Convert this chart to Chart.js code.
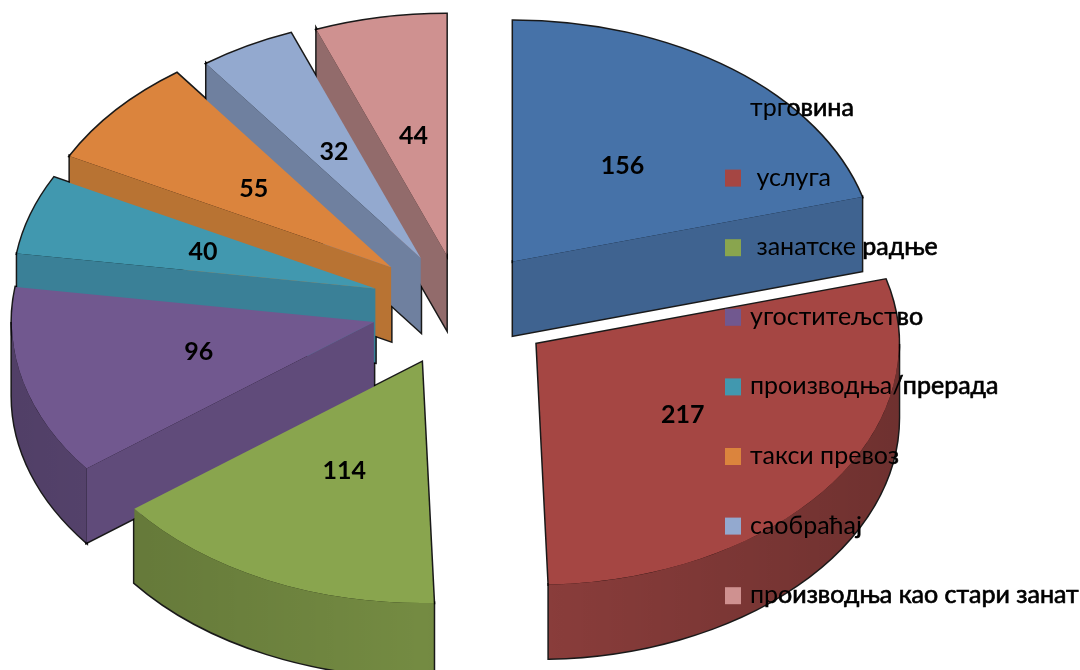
<!DOCTYPE html>
<html>
<head>
<meta charset="utf-8">
<script src="https://cdn.jsdelivr.net/npm/chart.js@4/dist/chart.umd.min.js"></script>
<style>
body { margin: 0; background: #fff; }
canvas { display: block; }
</style>
</head>
<body>
<canvas id="myChart" width="1080" height="670"></canvas>
<script>
const categories = ['трговина', ' услуга', ' занатске радње', 'угоститељство', 'производња/прерада', 'такси превоз', 'саобраћај', 'производња као стари занат'];
const values = [156, 217, 114, 96, 40, 55, 32, 44];
const topColors = ['#4672A8', '#A54643', '#89A54E', '#71588F', '#4198AF', '#DB843D', '#93A9CF', '#CF9190'];
const sideColors = ['#3F6390', '#8A3D3B', '#748B42', '#604B7A', '#3A8097', '#B87333', '#6F809F', '#926B6B'];
const slicePull = [86, 94, 92, 90, 90, 92, 84, 80];
// back slices first, the front ones cover them
const drawOrder = [7, 6, 5, 4, 3, 2, 0, 1];

const tilt = 0.665;
const wall = 74;
const labelFont = 'Lato, "Noto Sans", sans-serif';

// geometry of one slice, taken from the arc element
const sliceGeom = (arc) => {
    const mid = (arc.startAngle + arc.endAngle) / 2;
    const pull = arc.options.offset;
    return {
        ax: arc.x + Math.cos(mid) * pull,
        ay: arc.y + Math.sin(mid) * pull * tilt,
        r: arc.outerRadius,
        a0: arc.startAngle,
        a1: arc.endAngle,
        mid: mid
    };
};

const topPath = (ctx, s) => {
    ctx.beginPath();
    ctx.moveTo(s.ax, s.ay);
    ctx.ellipse(s.ax, s.ay, s.r, s.r * tilt, 0, s.a0, s.a1);
    ctx.closePath();
};

const radialFace = (ctx, s, a) => {
    const px = s.ax + Math.cos(a) * s.r;
    const py = s.ay + Math.sin(a) * s.r * tilt;
    ctx.beginPath();
    ctx.moveTo(s.ax, s.ay);
    ctx.lineTo(px, py);
    ctx.lineTo(px, py + wall);
    ctx.lineTo(s.ax, s.ay + wall);
    ctx.closePath();
};

// the cut faces that turn towards the viewer
const visibleFaces = (s) => {
    const faces = [];
    if (Math.sin(s.a0 - Math.PI / 2) > 0.1) faces.push(s.a0);
    if (Math.sin(s.a1 + Math.PI / 2) > 0.1) faces.push(s.a1);
    return faces;
};

// part of the rim on the front half of the ellipse, null when there is none
// arcs run from -PI/2 to 3PI/2 so the front half is just 0..PI
const frontRim = (s) => {
    const from = Math.max(s.a0, 0);
    const to = Math.min(s.a1, Math.PI);
    if (to <= from) return null;
    return [from, to];
};

const rimPath = (ctx, s, rim) => {
    ctx.beginPath();
    ctx.ellipse(s.ax, s.ay, s.r, s.r * tilt, 0, rim[0], rim[1]);
    ctx.ellipse(s.ax, s.ay + wall, s.r, s.r * tilt, 0, rim[1], rim[0], true);
    ctx.closePath();
};

const pie3d = {
    id: 'pie3d',
    beforeDatasetDraw(chart) {
        const ctx = chart.ctx;
        const arcs = chart.getDatasetMeta(0).data;
        drawOrder.forEach(i => {
            const s = sliceGeom(arcs[i]);
            ctx.fillStyle = sideColors[i];
            visibleFaces(s).forEach(a => {
                radialFace(ctx, s, a);
                ctx.fill();
            });
            const rim = frontRim(s);
            if (rim) {
                rimPath(ctx, s, rim);
                ctx.fill();
                // rim gets darker towards the sides
                const shade = ctx.createLinearGradient(s.ax - s.r, 0, s.ax + s.r, 0);
                shade.addColorStop(0, 'rgba(0,0,0,0.16)');
                shade.addColorStop(0.5, 'rgba(0,0,0,0)');
                shade.addColorStop(1, 'rgba(0,0,0,0.2)');
                ctx.fillStyle = shade;
                rimPath(ctx, s, rim);
                ctx.fill();
            }
            ctx.fillStyle = arcs[i].options.backgroundColor;
            topPath(ctx, s);
            ctx.fill();
        });
        // thin dark outline, only shows outside the painted slices
        ctx.save();
        ctx.globalCompositeOperation = 'destination-over';
        ctx.strokeStyle = 'rgba(0,0,0,0.9)';
        ctx.lineWidth = 3;
        drawOrder.forEach(i => {
            const s = sliceGeom(arcs[i]);
            topPath(ctx, s);
            ctx.stroke();
            visibleFaces(s).forEach(a => {
                radialFace(ctx, s, a);
                ctx.stroke();
            });
            const rim = frontRim(s);
            if (rim) {
                rimPath(ctx, s, rim);
                ctx.stroke();
            }
        });
        ctx.restore();
        return false;
    },
    afterDraw(chart) {
        const ctx = chart.ctx;
        const arcs = chart.getDatasetMeta(0).data;
        // values
        ctx.fillStyle = '#000';
        ctx.textAlign = 'center';
        ctx.textBaseline = 'middle';
        ctx.font = 'bold 25px ' + labelFont;
        arcs.forEach((arc, i) => {
            const s = sliceGeom(arc);
            ctx.fillText(values[i], s.ax + Math.cos(s.mid) * s.r / 2, s.ay + Math.sin(s.mid) * s.r * tilt / 2);
        });
        // legend
        ctx.textAlign = 'left';
        ctx.font = '25px ' + labelFont;
        chart.data.labels.forEach((label, i) => {
            const y = 108 + i * 69.6;
            ctx.fillStyle = topColors[i];
            ctx.fillRect(725, y - 8, 16, 17);
            ctx.save();
            ctx.globalCompositeOperation = 'destination-over';
            ctx.strokeStyle = '#000';
            ctx.lineWidth = 0.7;
            ctx.strokeText(label, 750, y);
            ctx.restore();
            ctx.fillStyle = '#000';
            ctx.fillText(label, 750, y);
        });
    }
};

new Chart(document.getElementById('myChart'), {
    type: 'pie',
    data: {
        labels: categories,
        datasets: [{
            data: values,
            backgroundColor: topColors,
            borderWidth: 0,
            offset: slicePull
        }]
    },
    options: {
        responsive: false,
        animation: false,
        radius: 362,
        layout: { padding: { right: 158, bottom: 56 } },
        events: [],
        plugins: {
            legend: { display: false },
            tooltip: { enabled: false }
        }
    },
    plugins: [pie3d]
});
</script>
</body>
</html>
